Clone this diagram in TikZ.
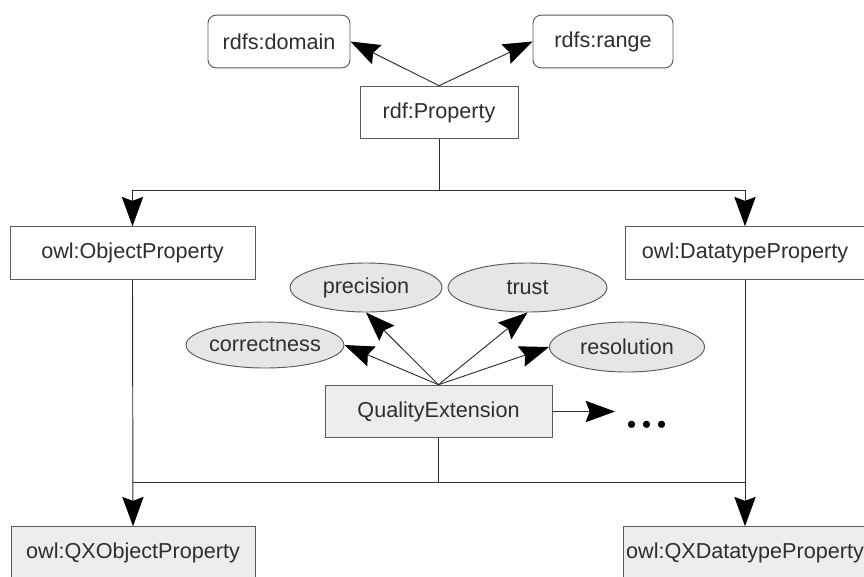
\documentclass[tikz,border=0pt]{standalone}
\usepackage{fontspec}
\setmainfont{Liberation Sans}
\newfontfamily\dotfont{Liberation Serif}
\usetikzlibrary{arrows.meta,shapes.geometric}
\definecolor{txt}{HTML}{2E2E2E}
\definecolor{edge}{HTML}{5A5A5A}
\definecolor{lfill}{HTML}{EDEDED}
\definecolor{efill}{HTML}{E6E6E6}
\tikzset{
  base/.style={draw=edge, line width=0.7pt, text=txt, inner sep=0pt,
    font=\fontsize{16.2}{18}\selectfont},
  plainbox/.style={base, rectangle, minimum height=39.5pt},
  roundbox/.style={plainbox, rounded corners=6pt},
  greybox/.style={plainbox, fill=lfill},
  oval/.style={base, ellipse, fill=efill},
  conn/.style={draw=txt, line width=0.7pt},
  arr/.style={conn, -{Stealth[length=22pt, width=16pt, inset=3pt, color=black]}},
}
\begin{document}
\begin{tikzpicture}[x=0.75pt, y=-0.75pt]
\clip (0,0) rectangle (864,576);
\useasboundingbox (0,0) rectangle (864,576);
\fill[white] (0,0) rectangle (864,576);

% top
\node[roundbox, minimum width=106.5pt] (domain) at (279,41.5) {rdfs:domain};
\node[roundbox, minimum width=105pt] (range) at (603,41.5) {rdfs:range};
\node[plainbox, minimum width=118.5pt] (prop) at (439,112.5) {rdf:Property};

% middle row
\node[plainbox, minimum width=183.75pt] (obj) at (132.5,253) {owl:ObjectProperty};
\node[plainbox, minimum width=179.25pt] (dt) at (745,253) {owl:DatatypeProperty};

% ellipses
\node[oval, minimum width=114pt, minimum height=36.75pt] (prec) at (366,287.5) {precision};
\node[oval, minimum width=119.25pt, minimum height=36.75pt] (trust) at (527.5,287.5) {trust};
\node[oval, minimum width=117pt, minimum height=34.5pt] (corr) at (265,345) {correctness};
\node[oval, minimum width=116.25pt, minimum height=37.5pt] (res) at (627,347) {resolution};

% quality extension
\node[greybox, minimum width=170.25pt] (qe) at (438.5,411.5) {QualityExtension};
\node[anchor=base west, inner sep=0pt, text=black,
  font=\dotfont\fontsize{45}{45}\selectfont] (dots) at (624,427) {...};
\coordinate (dtip) at (615,411.5);

% bottom
\node[greybox, minimum width=183pt] (qxo) at (133,553) {owl:QXObjectProperty};
\node[greybox, minimum width=183pt] (qxd) at (745,553) {owl:QXDatatypeProperty};

% connectors top
\draw[arr] (prop.north) -- (domain.east);
\draw[arr] (prop.north) -- (range.west);
\coordinate (t) at (439,190);
\draw[conn] (prop.south) -- (t);
\draw[arr] (t) -| (obj.north);
\draw[arr] (t) -| (dt.north);

% quality arrows
\draw[arr] (qe.north) -- (corr.east);
\draw[arr] (qe.north) -- (prec.south);
\draw[arr] (qe.north) -- (trust.south);
\draw[arr] (qe.north) -- (res.west);
\draw[arr] (qe.east) -- (dtip);

% bottom connectors
\coordinate (hl) at (438.5,482);
\draw[conn] (qe.south) -- (hl);
\draw[conn] (obj.south |- hl) -- (dt.south |- hl);
\draw[arr] (obj.south) -- (qxo.north);
\draw[arr] (dt.south) -- (qxd.north);
\end{tikzpicture}
\end{document}
